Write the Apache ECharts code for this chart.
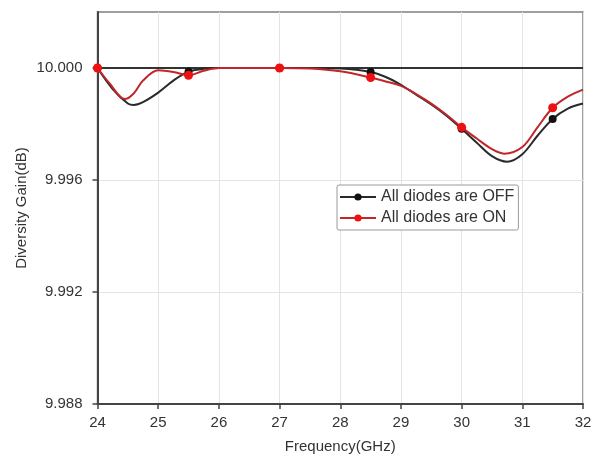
<!DOCTYPE html>
<html>
<head>
<meta charset="utf-8">
<script src="https://cdn.jsdelivr.net/npm/echarts@6/dist/echarts.min.js"></script>
<style>
html,body{margin:0;padding:0;background:#fff;}
#chart{width:612px;height:463px;}
</style>
</head>
<body>
<div id="chart"></div>
<script>
// Frequency samples (GHz)
const freqOff = [24.0, 24.25, 24.5, 24.6, 24.75, 25.0, 25.25, 25.5, 25.75, 26.0, 26.5, 27.0, 27.5, 28.0, 28.5, 28.75, 29.0, 29.25, 29.5, 29.75, 30.0, 30.25, 30.5, 30.75, 31.0, 31.25, 31.5, 31.75, 32.0];
const gainOff = [10.00000, 9.99925, 9.99873, 9.99868, 9.99878, 9.99912, 9.99955, 9.99987, 9.99997, 10.00000, 10.00000, 10.00000, 10.00000, 9.99998, 9.99986, 9.99968, 9.99940, 9.99905, 9.99870, 9.99830, 9.99783, 9.99733, 9.99685, 9.99665, 9.99692, 9.99758, 9.99818, 9.99855, 9.99873];

const freqOn = [24.0, 24.2, 24.45, 24.6, 24.75, 25.0, 25.25, 25.5, 25.75, 26.0, 26.5, 27.0, 27.5, 28.0, 28.5, 28.75, 29.0, 29.25, 29.5, 29.75, 30.0, 30.25, 30.5, 30.7, 31.0, 31.25, 31.5, 31.75, 32.0];
const gainOn = [10.00000, 9.99945, 9.99889, 9.99910, 9.99955, 9.99992, 9.99986, 9.99974, 9.99990, 10.00000, 10.00000, 10.00000, 9.99998, 9.99988, 9.99966, 9.99952, 9.99936, 9.99907, 9.99873, 9.99833, 9.99788, 9.99748, 9.99710, 9.99694, 9.99718, 9.99788, 9.99858, 9.99898, 9.99923];

// Frequencies that carry a marker
const markerFreqs = [24.0, 25.5, 27.0, 28.5, 30.0, 31.5];

const seriesNames = ['All diodes are OFF', 'All diodes are ON'];
const xTicks = [24, 25, 26, 27, 28, 29, 30, 31, 32];
const yTicks = [9.988, 9.992, 9.996, 10.000];
const referenceGain = 10.000;

function buildData(fx, gy) {
  return fx.map((f, i) => {
    const isMarker = markerFreqs.some(m => Math.abs(m - f) < 1e-9);
    return isMarker ? { value: [f, gy[i]] } : { value: [f, gy[i]], symbol: 'none' };
  });
}

const FONT = 'Liberation Sans, Arial, sans-serif';
const chart = echarts.init(document.getElementById('chart'), null, { renderer: 'canvas' });

chart.setOption({
  animation: false,
  backgroundColor: '#ffffff',
  grid: {
    left: 97.5, right: 29, top: 12, bottom: 59,
    show: true, borderColor: '#808080', borderWidth: 1.5, backgroundColor: 'transparent'
  },
  legend: {
    orient: 'vertical',
    left: 337, top: 185,
    data: seriesNames,
    itemWidth: 36, itemHeight: 9, itemGap: 5,
    padding: [4, 4, 4, 2],
    borderColor: '#9a9a9a', borderWidth: 1, borderRadius: 2,
    backgroundColor: '#ffffff',
    textStyle: { fontFamily: FONT, fontSize: 16, color: '#333' }
  },
  xAxis: {
    type: 'value', min: 24, max: 32, interval: 0.5,
    name: 'Frequency(GHz)', nameLocation: 'middle', nameGap: 35,
    nameTextStyle: { fontFamily: FONT, fontSize: 15, color: '#333' },
    axisLine: { onZero: false, lineStyle: { color: '#444', width: 2 } },
    axisTick: { show: true, inside: false, length: 5, customValues: xTicks, lineStyle: { color: '#444', width: 1.5 } },
    axisLabel: { customValues: xTicks, margin: 11, fontFamily: FONT, fontSize: 15, color: '#333' },
    splitLine: { show: true, lineStyle: { color: '#e4e4e4', width: 1 } }
  },
  yAxis: {
    type: 'value', min: 9.988, max: 10.002, interval: 0.002,
    name: 'Diversity Gain(dB)', nameLocation: 'middle', nameGap: 68, nameMoveOverlap: false,
    nameTextStyle: { fontFamily: FONT, fontSize: 15, color: '#333' },
    axisLine: { onZero: false, lineStyle: { color: '#444', width: 2 } },
    axisTick: { show: true, inside: false, length: 5, customValues: yTicks, lineStyle: { color: '#444', width: 1.5 } },
    axisLabel: {
      customValues: yTicks, margin: 15, fontFamily: FONT, fontSize: 15, color: '#333',
      formatter: v => Number(v).toFixed(3)
    },
    splitLine: { show: true, lineStyle: { color: '#e4e4e4', width: 1 } }
  },
  series: [
    {
      name: seriesNames[0], type: 'line', smooth: 0.35,
      data: buildData(freqOff, gainOff),
      symbol: 'circle', symbolSize: 8, showSymbol: true, showAllSymbol: true,
      lineStyle: { color: '#2a2a2a', width: 2 },
      itemStyle: { color: '#111' },
      z: 3,
      markLine: {
        silent: true, symbol: ['none', 'none'], label: { show: false },
        lineStyle: { color: '#333', width: 2, type: 'solid' },
        data: [{ yAxis: referenceGain }],
        z: 2
      }
    },
    {
      name: seriesNames[1], type: 'line', smooth: 0.35,
      data: buildData(freqOn, gainOn),
      symbol: 'circle', symbolSize: 9, showSymbol: true, showAllSymbol: true,
      lineStyle: { color: '#c0262a', width: 2 },
      itemStyle: { color: '#ee1111' },
      z: 4
    }
  ]
});
</script>
</body>
</html>
